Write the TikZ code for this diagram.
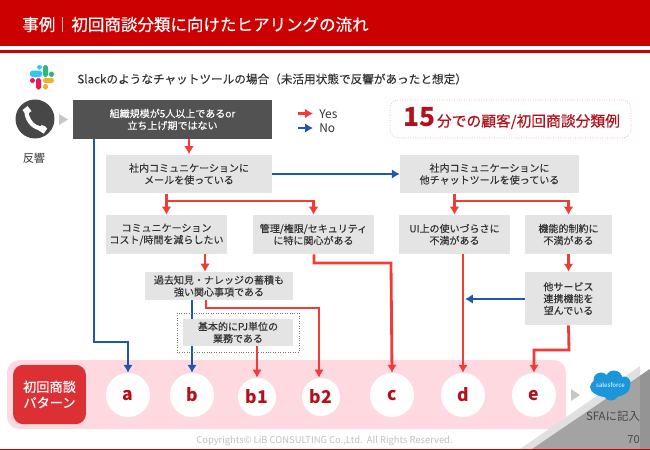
\documentclass[tikz,border=0pt]{standalone}
\usepackage{fontspec}
\setmainfont{Noto Sans CJK JP}
\newfontfamily\medfont[FakeBold=0.15]{Noto Sans CJK JP}
\newfontfamily\semifont[FakeBold=0.45]{Noto Sans CJK JP}
\usepackage{tikz}
\usetikzlibrary{arrows.meta,positioning,calc}
\definecolor{hdred}{HTML}{CC0000}
\definecolor{yesred}{HTML}{F23B36}
\definecolor{noblue}{HTML}{1F56AE}
\definecolor{boxgray}{HTML}{E4E4E4}
\definecolor{bandpink}{HTML}{FFD9E0}
\definecolor{patred}{HTML}{DC3035}
\definecolor{labred}{HTML}{B3121D}
\definecolor{txtgray}{HTML}{333333}
\definecolor{cloudblue}{HTML}{1B96D9}
\definecolor{slackblue}{HTML}{36C5F0}
\definecolor{slackgreen}{HTML}{2EB67D}
\definecolor{slackred}{HTML}{E01E5A}
\definecolor{slackyellow}{HTML}{ECB22E}
\newcommand{\fsz}[1]{\fontsize{#1}{#1}\selectfont}
\begin{document}
\begin{tikzpicture}[x=0.02cm,y=-0.02cm,
  qbox/.style={fill=boxgray,text=txtgray,inner sep=0pt,align=center,font=\medfont\fontsize{5.7}{6.8}\selectfont},
  yes/.style={draw=yesred,line width=1.6pt,-{Latex[length=4.5pt,width=5.5pt]}},
  no/.style={draw=noblue,line width=1.6pt,-{Latex[length=4.5pt,width=5.5pt]}},
  patbig/.style={circle,fill=white,text=labred,inner sep=0pt,minimum size=0.88cm,font=\fsz{10}\bfseries},
  patsmall/.style={circle,fill=white,text=labred,inner sep=0pt,minimum size=0.76cm,font=\fsz{10}\bfseries},
  tri/.style={fill=gray!45},
  slackbit/.style={rounded corners=1pt},
  lab/.style={text=txtgray,inner sep=0pt}]
  \useasboundingbox (0,0) rectangle (650,450);
  % header
  \fill[hdred] (0,0) rectangle (650,46);
  \fill[hdred] (0,49.5) rectangle (650,52.5);
  \node[text=white,anchor=west,inner sep=0pt,font=\semifont\fsz{9.4}] (ttlA) at (22,24.5) {事例};
  \draw[white!70!hdred,line width=0.4pt] (62.5,17) -- (62.5,32);
  \node[text=white,anchor=west,inner sep=0pt,font=\semifont\fsz{9.4}] (ttlB) at (71,24.5) {初回商談分類に向けたヒアリングの流れ};
  % slack logo
  \fill[slackbit,slackblue] (30,70.5) rectangle (42,77);
  \fill[slackbit,slackblue] (37,65) rectangle (42,69.5);
  \fill[slackbit,slackgreen] (43,65) rectangle (48,77);
  \fill[slackbit,slackgreen] (49,71.5) rectangle (54,77);
  \fill[slackbit,slackred] (36,78) rectangle (41,89.5);
  \fill[slackbit,slackred] (30,78) rectangle (35,83);
  \fill[slackbit,slackyellow] (43,78) rectangle (54,83);
  \fill[slackbit,slackyellow] (43,84) rectangle (48,89.5);
  \node[lab,anchor=west,font=\medfont\fsz{6.62}] (sub) at (77,79) {Slackのようなチャットツールの場合（未活用状態で反響があったと想定）};
  % phone
  \node[circle,fill=black!72,minimum size=0.78cm,inner sep=0pt] (phone) at (35,119) {};
  \draw[white,line width=2.4pt,line cap=round] (26.5,112) .. controls (27,121) and (35,130) .. (44,128);
  \draw[white,line width=3.6pt] (24.5,112.5) -- (29.5,108.5);
  \draw[white,line width=3.6pt] (40,127.5) -- (45.5,131);
  \fill[tri] (59,114) -- (68,119.5) -- (59,125) -- cycle;
  \node[lab,font=\fsz{6.4}] (resp) at (34,158) {反響};
  % legend
  \coordinate (legA) at (298,113.5); \coordinate (legB) at (313,113.5);
  \coordinate (legC) at (298,128); \coordinate (legD) at (313,128);
  \draw[yes] (legA) -- (legB);
  \draw[no] (legC) -- (legD);
  \node[lab,anchor=west,font=\fsz{6.8}] (legY) at (319,114) {Yes};
  \node[lab,anchor=west,font=\fsz{6.8}] (legN) at (319,128) {No};
  % callout
  \node[draw=yesred!50,densely dotted,rounded corners=5pt,fill=white,minimum width=4.82cm,minimum height=0.76cm,inner sep=0pt] (callout) at (510.5,119) {};
  \node[text=labred,anchor=base west,inner sep=0pt] (calltxt) at (403.5,126.5)
    {\fsz{15}\bfseries 15\mdseries\semifont\fsz{8.4}\hspace{0.6pt}分での顧客/初回商談分類例};
  % band
  \fill[bandpink,rounded corners=7pt] (7,360) rectangle (566,429);
  \node[fill=patred,rounded corners=6pt,text=white,minimum width=1.46cm,minimum height=1.19cm,inner sep=0pt,align=center,font=\semifont\fontsize{7.5}{9}\selectfont] (pat) at (49.5,394.5) {初回商談\\パターン};
  \node[patbig] (pa) at (128,395) {a};
  \node[patbig] (pb) at (192,395) {b};
  \node[patsmall] (pb1) at (257,397) {b1};
  \node[patsmall] (pb2) at (321,397) {b2};
  \node[patbig] (pc) at (392,395) {c};
  \node[patbig] (pd) at (463,395) {d};
  \node[patbig] (pe) at (534,395) {e};
  % corner
  \fill[black!12] (520,449) -- (640,366) -- (640,379) -- (532,449) -- cycle;
  \fill[black!36] (532,449) -- (650,369) -- (650,449) -- cycle;
  \fill[black!42] (640,375.8) -- (650,369) -- (650,449) -- (640,449) -- cycle;
  \fill[tri] (571,389) -- (580,395) -- (571,401) -- cycle;
  % cloud
  \fill[cloudblue] (610,387) ellipse (20 and 10.5);
  \fill[cloudblue] (601,380) circle (7.5);
  \fill[cloudblue] (614,379) circle (8.5);
  \fill[cloudblue] (624,383) circle (6.5);
  \fill[cloudblue] (611,393) circle (7.5);
  \node[text=white,inner sep=0pt,font=\fsz{3.5}\itshape] (sflogo) at (610.5,385) {salesforce};
  \node[text=black!72,inner sep=0pt,font=\fsz{6.5}] (sfa) at (613,416) {SFAに記入};
  \node[text=black!72,anchor=east,inner sep=0pt,font=\fsz{6.3}] (pageno) at (640,439.5) {70};
  \node[text=black!25,inner sep=0pt,font=\fsz{5.35}] (copy) at (324.5,440.5) {Copyrights© LiB CONSULTING Co.,Ltd.\ \ All Rights Reserved.};
  \fill[hdred] (0,448.5) rectangle (650,450);
  % question boxes
  \node[fill=black!68,text=white,inner sep=0pt,align=center,minimum width=3.98cm,minimum height=0.78cm,font=\medfont\fontsize{5.7}{6.8}\selectfont] (qTop) at (172.5,119.5) {組織規模が5人以上であるor\\立ち上げ期ではない};
  \node[qbox,minimum width=3.32cm,minimum height=0.78cm] (qMail) at (189,174) {社内コミュニケーションに\\メールを使っている};
  \node[qbox,minimum width=3.58cm,minimum height=0.78cm] (qChat) at (489.5,174) {社内コミュニケーションに\\他チャットツールを使っている};
  \node[qbox,minimum width=2.42cm,minimum height=0.78cm] (qCost) at (166.5,234.5) {コミュニケーション\\コスト/時間を減らしたい};
  \node[qbox,minimum width=2.42cm,minimum height=0.78cm] (qSec) at (313.5,234.5) {管理/権限/セキュリティ\\に特に関心がある};
  \node[qbox,minimum width=2.22cm,minimum height=0.78cm] (qUi) at (454.5,234.5) {UI上の使いづらさに\\不満がある};
  \node[qbox,minimum width=1.74cm,minimum height=0.78cm] (qFunc) at (568.5,234.5) {機能的制約に\\不満がある};
  \node[qbox,minimum width=2.96cm,minimum height=0.56cm] (qKnow) at (219,286) {過去知見・ナレッジの蓄積も\\強い関心事項である};
  \node[qbox,minimum width=1.74cm,minimum height=1.06cm] (qLink) at (568.5,298.5) {他サービス\\連携機能を\\望んでいる};
  \coordinate (jNoA) at (94,342);
  \coordinate (jSplit) at (0,201);
  \coordinate (jCostIn) at (205,0);
  \coordinate (jB2a) at (206,308);
  \coordinate (jB2b) at (319,308);
  \coordinate (jCa) at (314,263);
  \coordinate (jCb) at (391,263);
  \coordinate (jEa) at (569,350);
  \coordinate (jEb) at (534,350);
  \coordinate (jLink) at (465,299);
  % connectors
  \draw[no] (qTop.south -| jNoA) -- (jNoA) -- (jNoA -| pa) -- (pa.north);
  \draw[no] (pb |- qKnow.south) -- (pb.north);
  \node[draw=black!55,densely dotted,minimum width=2.44cm,minimum height=0.78cm,inner sep=0pt] (qDash) at (238,332.5) {};
  \node[qbox,minimum width=2.2cm,minimum height=0.54cm] (qProj) at (238,332.5) {基本的にPJ単位の\\業務である};
  \draw[yes] (qTop.south -| qMail) -- (qMail.north);
  \draw[no] (qMail.east) -- (qChat.west);
  \draw[yes] (qMail.south -| qCost) -- (qCost.north);
  \draw[yes] (jSplit -| qCost) -- (jSplit -| qSec) -- (qSec.north);
  \draw[yes] (qChat.south -| qUi) -- (qUi.north);
  \draw[yes] (jSplit -| qUi) -- (jSplit -| qFunc) -- (qFunc.north);
  \draw[yes] (qCost.south -| jCostIn) -- (qKnow.north -| jCostIn);
  \draw[yes] (qSec.south -| jCa) -- (jCa) -- (jCb) -- (pc.north);
  \draw[yes] (qKnow.south -| jB2a) -- (jB2a) -- (jB2b) -- (pb2.north -| jB2b);
  \draw[yes] (qProj.south -| pb1) -- (pb1.north);
  \draw[yes] (qUi.south -| pd) -- (pd.north);
  \draw[yes] (qFunc.south) -- (qLink.north);
  \draw[no] (qLink.west |- jLink) -- (jLink);
  \draw[yes] (qLink.south) -- (jEa) -- (jEb) -- (pe.north);
\end{tikzpicture}
\end{document}
